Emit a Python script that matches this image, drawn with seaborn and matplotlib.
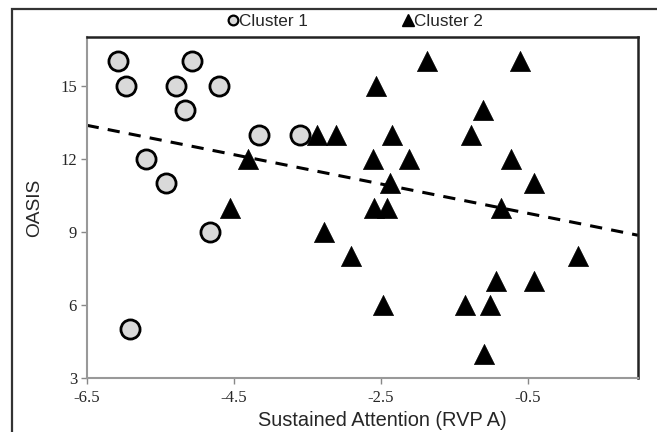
import numpy as np
import pandas as pd
import matplotlib
matplotlib.use("Agg")
import matplotlib.pyplot as plt
from matplotlib.patches import Rectangle
from matplotlib.lines import Line2D
import seaborn as sns

# Cluster 1 (circles)
c1_x = [-6.08, -5.07, -5.96, -5.28, -4.70, -5.16, -4.16, -3.60, -5.69, -5.42, -4.82, -5.91]
c1_y = [16, 16, 15, 15, 15, 14, 13, 13, 12, 11, 9, 5]

# Cluster 2 (triangles)
c2_x = [-4.31, -4.55, -3.37, -3.11, -1.87, -0.61, -2.56, -1.11, -2.35, -1.27,
        -2.61, -2.12, -0.73, -2.38, -0.41, -2.59, -2.41, -0.86, -3.27, -2.90,
        0.19, -0.93, -0.42, -2.47, -1.35, -1.01, -1.09]
c2_y = [12, 10, 13, 13, 16, 16, 15, 14, 13, 13,
        12, 12, 12, 11, 11, 10, 10, 10, 9, 8,
        8, 7, 7, 6, 6, 6, 4]

x_ticks = [-6.5, -4.5, -2.5, -0.5]
y_ticks = [3, 6, 9, 12, 15]

df = pd.DataFrame({
    "rvp": c1_x + c2_x,
    "oasis": c1_y + c2_y,
    "cluster": ["Cluster 1"] * len(c1_x) + ["Cluster 2"] * len(c2_x),
})

sns.set_style("white")
plt.rcParams["font.family"] = ["Liberation Sans", "DejaVu Sans"]

fig = plt.figure(figsize=(6.57, 4.32), dpi=100)
ax = fig.add_axes([0.132, 0.125, 0.839, 0.789])

ax.set_xlim(-6.5, 1.0)
ax.set_ylim(3, 17)

# overall trend line (fit over all points)
sns.regplot(data=df, x="rvp", y="oasis", scatter=False, ci=None, truncate=False,
            color="black", line_kws=dict(linestyle=(0, (4, 3)), linewidth=2.2), ax=ax)

sns.scatterplot(data=df[df.cluster == "Cluster 1"], x="rvp", y="oasis", marker="o",
                s=190, color="#d9d9d9", edgecolor="black", linewidth=2, ax=ax,
                legend=False, zorder=3)
sns.scatterplot(data=df[df.cluster == "Cluster 2"], x="rvp", y="oasis", marker="^",
                s=210, color="black", edgecolor="black", linewidth=0.5, ax=ax,
                legend=False, zorder=3)

ax.set_xlim(-6.5, 1.0)
ax.set_ylim(3, 17)
ax.set_xticks(x_ticks)
ax.set_yticks(y_ticks)
ax.set_xticklabels([str(v) for v in x_ticks], family="Liberation Serif", fontsize=12)
ax.set_yticklabels([str(v) for v in y_ticks], family="Liberation Serif", fontsize=12)
ax.tick_params(axis="both", length=4, width=1, color="#888888", direction="out",
               pad=3, bottom=True, left=True)
ax.xaxis.set_tick_params(pad=5)

for side in ["left", "bottom"]:
    ax.spines[side].set_color("#999999")
    ax.spines[side].set_linewidth(1.5)
for side in ["top", "right"]:
    ax.spines[side].set_color("#222222")
    ax.spines[side].set_linewidth(1.8)

ax.set_xlabel("Sustained Attention (RVP A)", fontsize=14.4)
ax.xaxis.set_label_coords(0.537, -0.097)
ax.set_ylabel("OASIS", fontsize=13.8, labelpad=12)

handles = [
    Line2D([], [], marker="o", linestyle="", markersize=7, markerfacecolor="#d9d9d9",
           markeredgecolor="black", markeredgewidth=1.6, label="Cluster 1"),
    Line2D([], [], marker="^", linestyle="", markersize=8.5, color="black", label="Cluster 2"),
]
fig.legend(handles=handles, loc="center", bbox_to_anchor=(0.54, 0.95), ncol=2,
           frameon=False, fontsize=12.3, handletextpad=0.0, columnspacing=5.5,
           handlelength=0.7)

# outer frame
fig.patches.append(Rectangle((12 / 657, -0.1), 1.1, 1.1 - 9.5 / 432,
                             transform=fig.transFigure, fill=False,
                             edgecolor="#333333", linewidth=1.6, clip_on=False))

fig.savefig("out.png", dpi=100)
